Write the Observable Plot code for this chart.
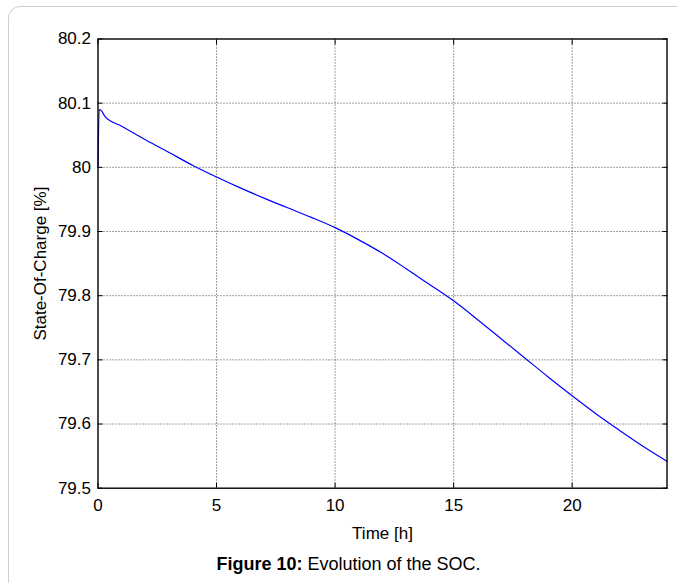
<!DOCTYPE html>
<html>
<head>
<meta charset="utf-8">
<script src="https://cdn.jsdelivr.net/npm/d3@7"></script>
<script src="https://cdn.jsdelivr.net/npm/@observablehq/plot@0.6"></script>
<style>
  html, body { margin: 0; padding: 0; background: #fff; }
  body { width: 677px; height: 583px; position: relative; overflow: hidden; font-family: "Liberation Sans", Arial, sans-serif; }
  #frame { position: absolute; left: 8px; top: 6px; width: 720px; height: 640px; border: 1.5px solid #cfcfcf; border-radius: 12px; box-sizing: border-box; }
  #chart { position: absolute; left: 0; top: 0; }
  #caption { position: absolute; left: 0; width: 697px; top: 554px; text-align: center; font-size: 18px; color: #000; }
</style>
</head>
<body>
<div id="frame"></div>
<div id="chart"></div>
<div id="caption"><b>Figure 10:</b> Evolution of the SOC.</div>
<script>
// Data
const timeHours = [0, 0.05, 0.15, 0.3, 1, 2, 3, 4, 5, 6, 7, 8, 9, 10, 11, 12, 13, 14, 15, 16, 17, 18, 19, 20, 21, 22, 23, 24];
const socPercent = [80.000, 80.090, 80.088, 80.079, 80.064, 80.043, 80.023, 80.003, 79.985, 79.968, 79.952, 79.937, 79.922, 79.906, 79.887, 79.866, 79.842, 79.817, 79.792, 79.763, 79.733, 79.703, 79.673, 79.644, 79.616, 79.590, 79.565, 79.542];
const xTicks = [0, 5, 10, 15, 20];
const yTicks = [79.5, 79.6, 79.7, 79.8, 79.9, 80.0, 80.1, 80.2];
const xLabel = "Time [h]";
const yLabel = "State-Of-Charge [%]";

const data = timeHours.map((t, i) => ({t, v: socPercent[i]}));
const fmtY = d => String(+d.toFixed(1));

const chart = Plot.plot({
  width: 677,
  height: 545,
  marginLeft: 97.5,
  marginRight: 10.5,
  marginTop: 38.5,
  marginBottom: 57.3,
  style: {fontFamily: '"Liberation Sans", Arial, sans-serif', fontSize: "17px", color: "#000", background: "transparent"},
  x: {domain: [0, 24]},
  y: {domain: [79.5, 80.2]},
  marks: [
    Plot.gridX(xTicks.slice(1), {stroke: "#222", strokeOpacity: 0.85, strokeDasharray: "1,2", strokeWidth: 1}),
    Plot.gridY(yTicks.slice(1, -1), {stroke: "#222", strokeOpacity: 0.85, strokeDasharray: "1,2", strokeWidth: 1}),
    Plot.axisX({ticks: xTicks, tickSize: -5, tickPadding: 16, label: xLabel, labelAnchor: "center", labelOffset: 51, labelArrow: "none", fontSize: 17}),
    Plot.axisX({anchor: "top", ticks: xTicks, tickSize: -5, tickFormat: () => "", label: null}),
    Plot.axisY({ticks: yTicks, tickSize: -5, tickPadding: 12, tickFormat: fmtY, label: yLabel, labelAnchor: "center", labelOffset: 64, labelArrow: "none", fontSize: 17}),
    Plot.axisY({anchor: "right", ticks: yTicks, tickSize: -5, tickFormat: () => "", label: null}),
    Plot.line(data, {x: "t", y: "v", stroke: "#0000ff", strokeWidth: 1.2, curve: "monotone-x"}),
    Plot.frame({stroke: "#000", strokeWidth: 1.4})
  ]
});
document.getElementById("chart").appendChild(chart);
</script>
</body>
</html>
